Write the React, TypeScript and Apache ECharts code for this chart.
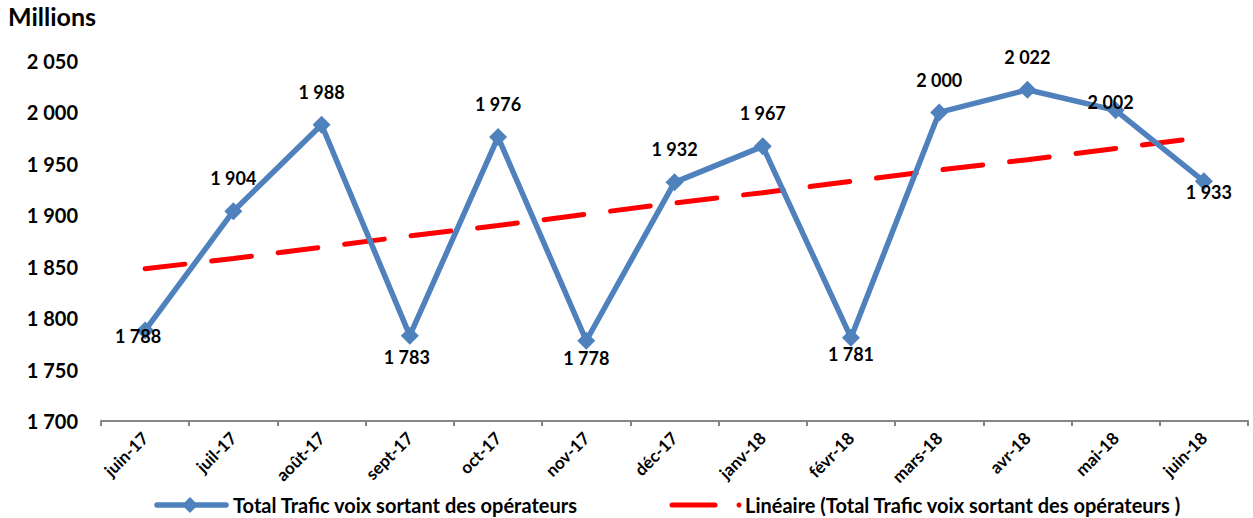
import React, { useEffect, useRef } from "react";
import * as echarts from "echarts";

const categories = ["juin-17", "juil-17", "août-17", "sept-17", "oct-17", "nov-17", "déc-17", "janv-18", "févr-18", "mars-18", "avr-18", "mai-18", "juin-18"];
const traffic = [1788, 1904, 1988, 1783, 1976, 1778, 1932, 1967, 1781, 2000, 2022, 2002, 1933];
const trend = [1848, 1858, 1869, 1880, 1890, 1901, 1912, 1922, 1933, 1944, 1954, 1965, 1976];
const labelOffsets: number[][] = [[-7, 6], [0, -33], [0, -33], [-3, 21], [0, -33], [0, 17], [0, -33], [0, -33], [0, 16], [0, -32], [0, -33], [-5, -8], [5, 11]];
const seriesNames = ["Total Trafic voix sortant des opérateurs", "Linéaire (Total Trafic voix sortant des opérateurs )"];
const yMin = 1700, yMax = 2050, yStep = 50;

const FONT = "Lato, 'Open Sans', sans-serif";
const fmt = (v: number) => `${Math.floor(v / 1000)} ${String(v % 1000).padStart(3, "0")}`;

export default function App() {
  const ref = useRef<HTMLDivElement>(null);
  useEffect(() => {
    const chart = echarts.init(ref.current!, undefined, { renderer: "svg" });
    chart.setOption({
      animation: false,
      textStyle: { fontFamily: FONT },
      grid: { left: 101, right: 5, top: 61, bottom: 97 },
      xAxis: {
        type: "category",
        data: categories,
        boundaryGap: true,
        axisLine: { lineStyle: { color: "#868686", width: 2 } },
        axisTick: { show: true, length: 5, lineStyle: { color: "#868686", width: 2 } },
        axisLabel: { interval: 0, rotate: 45, color: "#000", fontWeight: "bold", fontSize: 17, fontFamily: FONT, margin: 14 },
      },
      yAxis: {
        type: "value",
        min: yMin,
        max: yMax,
        interval: yStep,
        axisLine: { show: false },
        axisTick: { show: false },
        splitLine: { show: false },
        axisLabel: { color: "#000", fontWeight: "bold", fontSize: 20, fontFamily: FONT, margin: 23, formatter: (v: number) => fmt(v) },
      },
      series: [
        {
          name: seriesNames[1],
          type: "line",
          data: trend,
          symbol: "none",
          z: 1,
          lineStyle: { color: "#FF0000", width: 5, type: [40, 27], cap: "round" },
        },
        {
          name: seriesNames[0],
          type: "line",
          data: traffic.map((v, i) => ({
            value: v,
            label: { offset: labelOffsets[i] },
          })),
          z: 3,
          symbol: "diamond",
          symbolSize: 18,
          itemStyle: { color: "#4F81BD" },
          lineStyle: { color: "#4F81BD", width: 5.5 },
          label: {
            show: true,
            position: "inside",
            color: "#000",
            fontWeight: "bold",
            fontSize: 18,
            fontFamily: FONT,
            formatter: (p: any) => fmt(p.value),
          },
        },
      ],
      graphic: [
        { type: "text", left: 8, top: 3, style: { text: "Millions", font: `bold 25px ${FONT}`, fill: "#000" } },
        { type: "line", shape: { x1: 157, y1: 505, x2: 226, y2: 505 }, style: { stroke: "#4F81BD", lineWidth: 5.5, lineCap: "round" } },
        { type: "polygon", shape: { points: [[190, 497], [198, 505], [190, 513], [182, 505]] }, style: { fill: "#4F81BD" } },
        { type: "text", x: 233, y: 505, style: { text: seriesNames[0], font: `bold 20px ${FONT}`, fill: "#000", textVerticalAlign: "middle" } },
        { type: "line", shape: { x1: 672, y1: 505, x2: 715, y2: 505 }, style: { stroke: "#FF0000", lineWidth: 5, lineCap: "round" } },
        { type: "circle", shape: { cx: 739, cy: 505, r: 2.5 }, style: { fill: "#FF0000" } },
        { type: "text", x: 745, y: 505, style: { text: seriesNames[1], font: `bold 20px ${FONT}`, fill: "#000", textVerticalAlign: "middle" } },
      ],
    });
    return () => chart.dispose();
  }, []);
  return <div ref={ref} style={{ width: 1253, height: 518, position: "absolute", left: 0, top: 0 }} />;
}
